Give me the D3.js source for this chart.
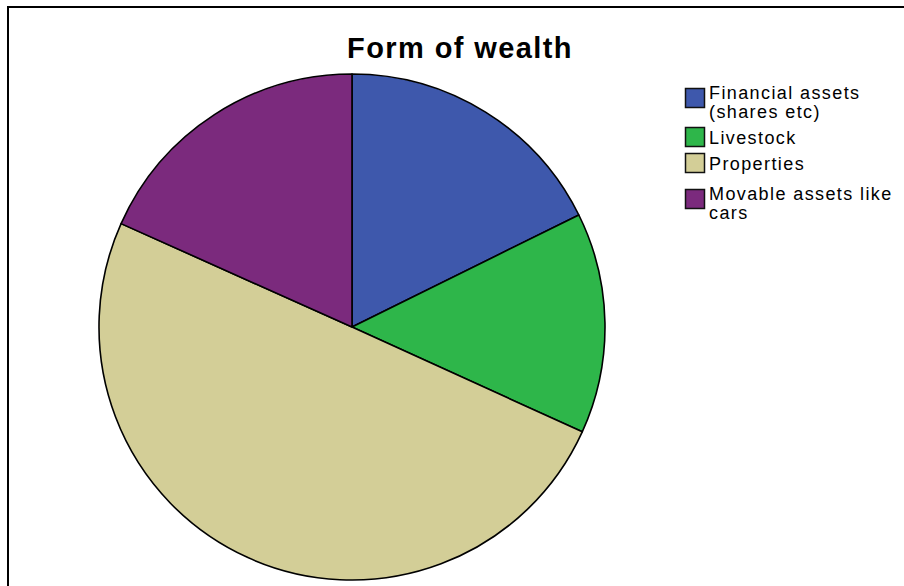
<!DOCTYPE html>
<html>
<head>
<meta charset="utf-8">
<script src="https://cdn.jsdelivr.net/npm/d3@7"></script>
<style>
  html, body { margin: 0; padding: 0; background: #fff; }
  svg { display: block; }
</style>
</head>
<body>
<svg id="chart" width="904" height="586"></svg>
<script>
// Share of respondents by form of wealth held (percent)
const categories = ["Financial assets (shares etc)", "Livestock", "Properties", "Movable assets like cars"];
const legendLines = [["Financial assets", "(shares etc)"], ["Livestock"], ["Properties"], ["Movable assets like", "cars"]];
const shares = [17.7, 14.1, 49.9, 18.3];
const colors = ["#3E58AC", "#2EB64A", "#D3CE97", "#7B2A7D"];

const svg = d3.select("#chart");

// outer frame (only top and left edges fall inside the window)
svg.append("rect")
  .attr("x", 8).attr("y", 7)
  .attr("width", 1000).attr("height", 1000)
  .attr("fill", "none").attr("stroke", "#000").attr("stroke-width", 2);

// title
svg.append("text")
  .attr("x", 460).attr("y", 58)
  .attr("text-anchor", "middle")
  .attr("font-family", "Liberation Sans, Arial, sans-serif")
  .attr("font-weight", "bold")
  .attr("font-size", 29)
  .attr("letter-spacing", 1.4)
  .text("Form of wealth");

// pie
const cx = 352, cy = 327, r = 253;
const color = d3.scaleOrdinal().domain(categories).range(colors);
const pie = d3.pie().sort(null).value(d => d.v);
const arc = d3.arc().innerRadius(0).outerRadius(r);
const data = categories.map((c, i) => ({ c, v: shares[i] }));

svg.append("g")
  .attr("transform", `translate(${cx},${cy})`)
  .selectAll("path")
  .data(pie(data))
  .join("path")
  .attr("d", arc)
  .attr("fill", d => color(d.data.c))
  .attr("stroke", "#000")
  .attr("stroke-width", 1.6)
  .attr("stroke-linejoin", "round");

// legend
const legendTops = [88, 127, 153, 189];
const lg = svg.append("g");
categories.forEach((c, i) => {
  const g = lg.append("g").attr("transform", `translate(685,${legendTops[i]})`);
  g.append("rect")
    .attr("x", 0.5).attr("y", 0.5)
    .attr("width", 19).attr("height", 19)
    .attr("fill", color(c))
    .attr("stroke", "#111").attr("stroke-width", 1.5);
  const t = g.append("text")
    .attr("font-family", "Liberation Sans, Arial, sans-serif")
    .attr("font-size", 18)
    .attr("letter-spacing", 1.4)
    .attr("fill", "#000");
  const lines = legendLines[i];
  const firstBase = lines.length > 1 ? 11 : 17;
  lines.forEach((ln, j) => {
    t.append("tspan")
      .attr("x", 24)
      .attr("y", firstBase + j * 18.5)
      .text(ln);
  });
});
</script>
</body>
</html>
